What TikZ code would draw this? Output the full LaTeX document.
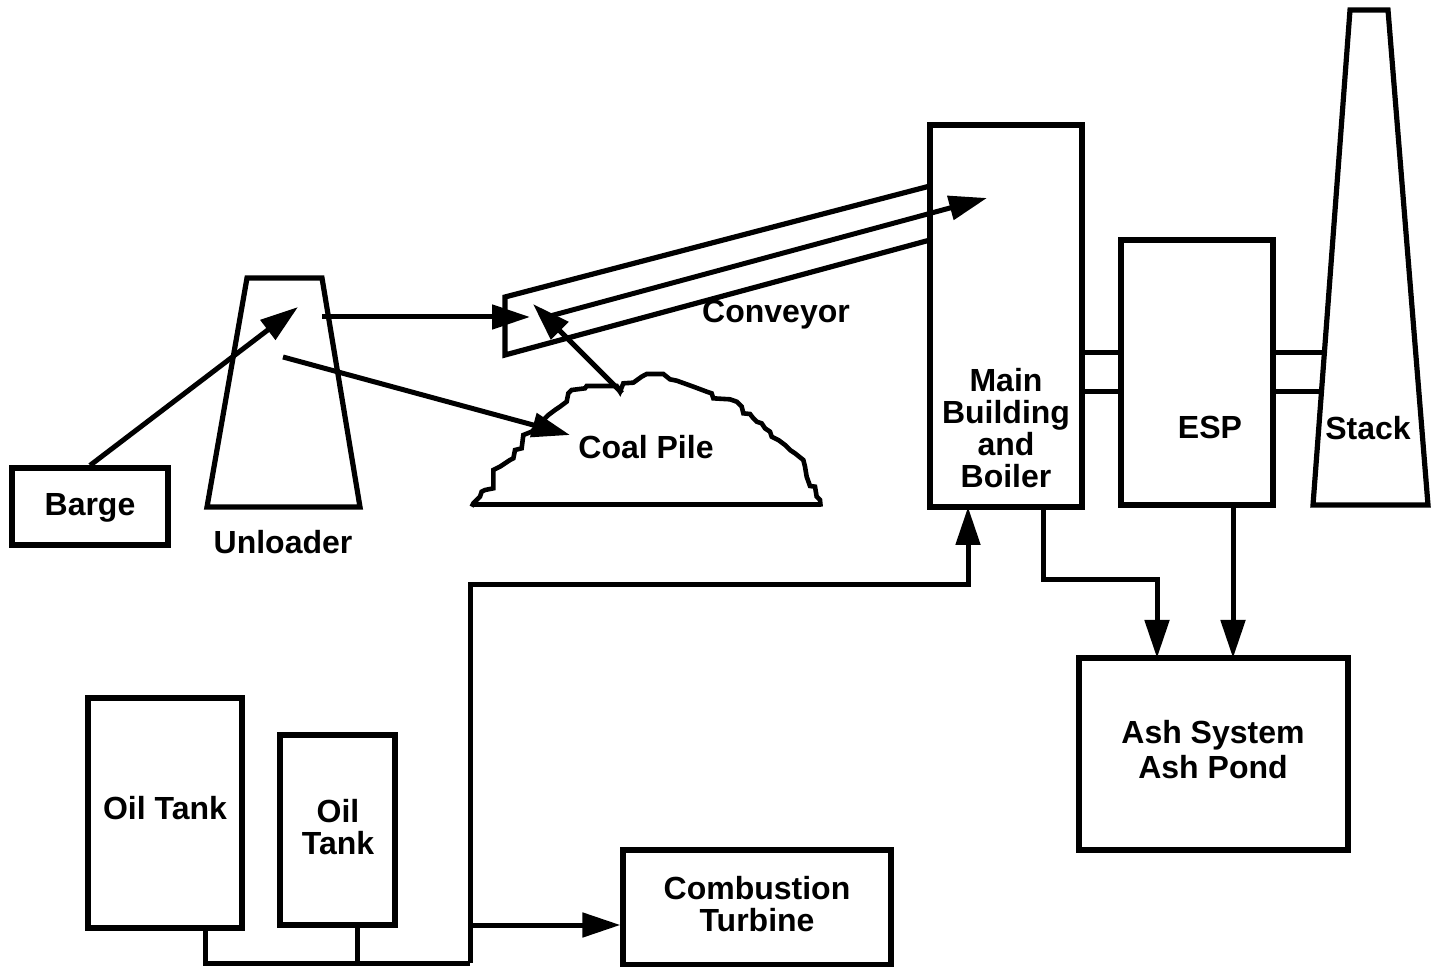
\documentclass[tikz,border=0pt]{standalone}
\usepackage{fontspec}
\setmainfont{Liberation Sans}
\usetikzlibrary{arrows.meta}
\begin{document}
\begin{tikzpicture}[x=0.5pt,y=-0.5pt,
  every node/.style={font=\fontsize{16}{16}\selectfont\bfseries, inner sep=0pt},
  box/.style={draw, line width=2.6pt, rectangle, align=center},
  lbl/.style={align=center},
  pipe/.style={line width=2.5pt},
  arr/.style={line width=2.5pt, -{Triangle[length=19pt,width=12pt]}},
  outline/.style={line width=2.6pt, line join=miter}
]
\useasboundingbox (0,0) rectangle (1435,967);

% boxes
\node[box, minimum width=78pt, minimum height=38.5pt] (barge) at (90,506.5) {};
\node[lbl] (bargel) at (90,508) {Barge};
\node[box, minimum width=77pt, minimum height=115pt] (tankA) at (165,813) {};
\node[lbl] (tankAl) at (165,808) {Oil Tank};
\node[box, minimum width=57.5pt, minimum height=95pt] (tankB) at (337.5,830) {};
\node[lbl] (tankBl) at (338,827) {Oil\\Tank};
\node[box, minimum width=134pt, minimum height=57.5pt] (ct) at (757,907.5) {};
\node[lbl] (ctl) at (757,904) {Combustion\\Turbine};
\node[box, minimum width=76pt, minimum height=191pt] (mb) at (1006,316) {};
\node[lbl] (mbl) at (1006,428) {Main\\Building\\and\\Boiler};
\node[box, minimum width=76pt, minimum height=132.5pt] (esp) at (1197,372.5) {};
\node[lbl] (espl) at (1210,427) {ESP};
\node[box, minimum width=134.5pt, minimum height=96pt] (ash) at (1213.5,754) {};
\node[lbl] (ashl) at (1213,750) {Ash System\\[1.5pt]Ash Pond};

% stack
\draw[outline] (1350,10) -- (1388,10) -- (1428,505) -- (1313,505) -- cycle;
\node[lbl] (stackl) at (1368,428) {Stack};

% ducts
\draw[pipe] (1082,353) -- (1121,353);
\draw[pipe] (1082,392) -- (1121,392);
\draw[pipe] (1273,353) -- (1324.4,353);
\draw[pipe] (1273,392) -- (1321.4,392);

% unloader
\draw[outline] (247,278) -- (322,278) -- (360,507) -- (207,507) -- cycle;
\node (unl) at (283,542) {Unloader};

% conveyor
\draw[outline] (930,186) -- (505,297) -- (505,355) -- (930,240);
\node (conv) at (776,315) {Conveyor};

% coal pile
\begin{scope}[shift={(460,360)},scale=1/3]
\draw[line width=2.3pt, line join=miter]
 (35,440) -- (40,430) -- (60,410) -- (65,395) -- (75,390) -- (100,385) -- (100,330)
 -- (120,320) -- (150,300) -- (160,295) -- (165,270) -- (185,265) -- (190,225)
 -- (215,215) -- (250,180) -- (265,165) -- (285,150) -- (300,140) -- (320,125)
 -- (325,100) -- (335,90) -- (375,85) -- (380,78) -- (470,78) -- (480,95)
 -- (490,70) -- (520,68) -- (545,50) -- (560,42) -- (610,42) -- (630,58)
 -- (650,62) -- (700,80) -- (740,95) -- (755,100) -- (760,115) -- (810,118)
 -- (830,125) -- (845,140) -- (850,160) -- (870,162) -- (880,175) -- (890,185)
 -- (905,190) -- (915,205) -- (930,215) -- (935,230) -- (955,240) -- (975,255)
 -- (990,270) -- (1005,280) -- (1030,300) -- (1035,320) -- (1040,350)
 -- (1050,378) -- (1065,380) -- (1070,410) -- (1080,420) -- (1082,440);
\draw[line width=2.5pt] (35,435) -- (1082,435);
\end{scope}
\node (coal) at (646,447) {Coal Pile};

% material flow arrows
\coordinate (u1) at (298,307);
\coordinate (u2) at (322,317);
\coordinate (c1) at (530,317);
\coordinate (u3) at (283,357);
\coordinate (p1) at (570,435);
\coordinate (p2) at (622,393);
\coordinate (c2) at (533,304);
\coordinate (c3) at (550,316);
\coordinate (b1) at (987,198);
\draw[arr] (barge.north) -- (u1);
\draw[arr] (u2) -- (c1);
\draw[arr] (u3) -- (p1);
\draw[arr] (p2) -- (c2);
\draw[arr] (c3) -- (b1);

% oil piping
\coordinate (tA) at (205,928);
\coordinate (tB) at (357,925);
\coordinate (j1) at (470,963);
\coordinate (j2) at (470,925);
\coordinate (k1) at (470,585);
\coordinate (m1) at (968,507);
\draw[pipe] (tA) |- (j1);
\draw[pipe] (tB) -- (tB |- j1);
\draw[arr] (j1) -- (k1) -| (m1);
\draw[arr] (j2) -- (j2 -| ct.west);

% ash lines
\coordinate (a1) at (1043,507);
\coordinate (a2) at (1157,580);
\coordinate (a3) at (1157,658);
\coordinate (e1) at (1233,505);
\coordinate (e2) at (1233,658);
\draw[arr] (a1) |- (a2) -- (a3);
\draw[arr] (e1) -- (e2);
\end{tikzpicture}
\end{document}
